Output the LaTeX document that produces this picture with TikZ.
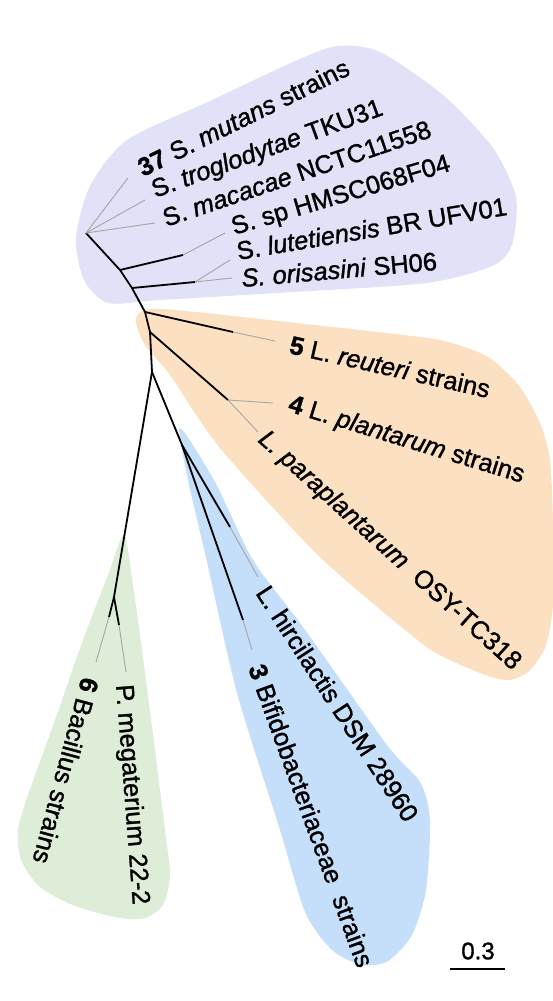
\documentclass[tikz,border=0pt]{standalone}
\usepackage{fontspec}
\setmainfont{Liberation Sans}
\newfontfamily\labfont{Liberation Sans}[FakeBold=1.2]
\definecolor{pblob}{RGB}{225,225,247}
\definecolor{oblob}{RGB}{252,224,194}
\definecolor{bblob}{RGB}{197,222,249}
\definecolor{gblob}{RGB}{221,237,216}
\definecolor{leafgrey}{RGB}{165,165,165}
\begin{document}
\begin{tikzpicture}[x=1pt,y=-1pt,
  br/.style={line width=1.8pt, black},
  lf/.style={line width=0.9pt, leafgrey},
  lab/.style={anchor=base west, inner sep=0pt, font=\labfont\fontsize{25.5}{30}\selectfont},
  blob/.style={smooth cycle, tension=0.45}]
\useasboundingbox (0,0) rectangle (553,1001);
% blobs
\fill[pblob] plot[blob] coordinates {(76,238) (90,186) (127,140) (210,101) (293,62) (337,46) (380,52) (443,95) (493,148) (516,197) (512,245) (492,266) (427,283) (293,292) (160,300) (108,303) (84,280)};
\fill[oblob] plot[blob] coordinates {(136,318) (160,309) (287,322) (420,337) (455,344) (490,358) (520,387) (540,423) (550,460) (553,523) (553,605) (545,648) (528,672) (510,680) (488,676) (450,660) (420,642) (320,557) (220,448) (170,375) (145,345)};
\fill[bblob] plot[blob] coordinates {(180,428) (215,482) (253,560) (303,627) (387,745) (420,782) (430,820) (426,890) (412,935) (388,961) (362,965) (332,950) (305,912) (280,830) (237,693) (207,562) (188,480)};
\fill[gblob] plot[blob] coordinates {(124,535) (133,585) (142,650) (155,750) (165,830) (170,875) (163,905) (145,918) (120,918) (75,906) (40,887) (21,860) (18,830) (28,795) (55,720) (83,640) (108,575)};
% tree coordinates
\coordinate (r1) at (86,233);
\coordinate (t1) at (128,178);
\coordinate (t2) at (145,200);
\coordinate (t3) at (155,223);
\coordinate (j1) at (120,270);
\coordinate (j1a) at (183,255);
\coordinate (t4) at (225,233);
\coordinate (j2) at (132,288);
\coordinate (j2a) at (195,282);
\coordinate (t5) at (230,260);
\coordinate (t6) at (232,278);
\coordinate (j3) at (145,312);
\coordinate (j3a) at (233,332);
\coordinate (t7) at (275,341);
\coordinate (j4) at (150,332);
\coordinate (j4a) at (228,400);
\coordinate (t8) at (273,403);
\coordinate (t9) at (258,432);
\coordinate (j5) at (152,372);
\coordinate (jb) at (114,597);
\coordinate (jb1) at (109,617);
\coordinate (jb2) at (119,625);
\coordinate (t13) at (96,662);
\coordinate (t12) at (126,672);
\coordinate (jf) at (182,445);
\coordinate (jf1) at (230,527);
\coordinate (t10) at (258,577);
\coordinate (jf2) at (243,620);
\coordinate (t11) at (252,650);
% black branches
\draw[br] (r1) -- (j1) -- (j2) -- (j3) -- (j4) -- (j5);
\draw[br] (j1) -- (j1a);
\draw[br] (j2) -- (j2a);
\draw[br] (j3) -- (j3a);
\draw[br] (j4) -- (j4a);
\draw[br] (j5) -- (jb);
\draw[br] (jb) -- (jb1);
\draw[br] (jb) -- (jb2);
\draw[br] (j5) -- (jf);
\draw[br] (jf) -- (jf1);
\draw[br] (jf) -- (jf2);
% grey leaves
\draw[lf] (r1) -- (t1);
\draw[lf] (r1) -- (t2);
\draw[lf] (r1) -- (t3);
\draw[lf] (j1a) -- (t4);
\draw[lf] (j2a) -- (t5);
\draw[lf] (j2a) -- (t6);
\draw[lf] (j3a) -- (t7);
\draw[lf] (j4a) -- (t8);
\draw[lf] (j4a) -- (t9);
\draw[lf] (jb1) -- (t13);
\draw[lf] (jb2) -- (t12);
\draw[lf] (jf1) -- (t10);
\draw[lf] (jf2) -- (t11);
% labels
\node[lab, rotate=26.3] (L1) at (143,177) {\textbf{37} S. \textit{mutans} strains};
\node[lab, rotate=20] (L2) at (155,198) {S. \textit{troglodytae} TKU31};
\node[lab, rotate=18.7] (L3) at (166,227) {S. \textit{macacae} NCTC11558};
\node[lab, rotate=16.5] (L4) at (234,235) {S. sp HMSC068F04};
\node[lab, rotate=9.5] (L5) at (238,260) {S. \textit{lutetiensis} BR UFV01};
\node[lab, rotate=5] (L6) at (242,287) {\textit{S. orisasini} SH06};
\node[lab, rotate=-12.7] (L7) at (288,353) {\textbf{5} L. \textit{reuteri} strains};
\node[lab, rotate=-17] (L8) at (287,411) {\textbf{4} L. \textit{plantarum} strains};
\node[lab, rotate=-42] (L9) at (257,441) {\textit{L. paraplantarum}\ \ OSY-TC318};
\node[lab, rotate=-57] (L10) at (255,593) {L. hircilactis DSM 28960};
\node[lab, rotate=-70] (L11) at (248,668) {\textbf{3} Bifidobacteriaceae\ \ strains};
\node[lab, rotate=-85.6] (L12) at (116,685) {P. megaterium 22-2};
\node[lab, rotate=-105] (L13) at (82,676) {\textbf{6} Bacillus strains};
% scale bar
\coordinate (sbL) at (450,969);
\coordinate (sbR) at (505,969);
\draw[line width=2.5pt] (sbL) -- (sbR);
\node[inner sep=0pt, font=\labfont\fontsize{24}{28}\selectfont] (sb) at (478,951) {0.3};
\end{tikzpicture}
\end{document}
